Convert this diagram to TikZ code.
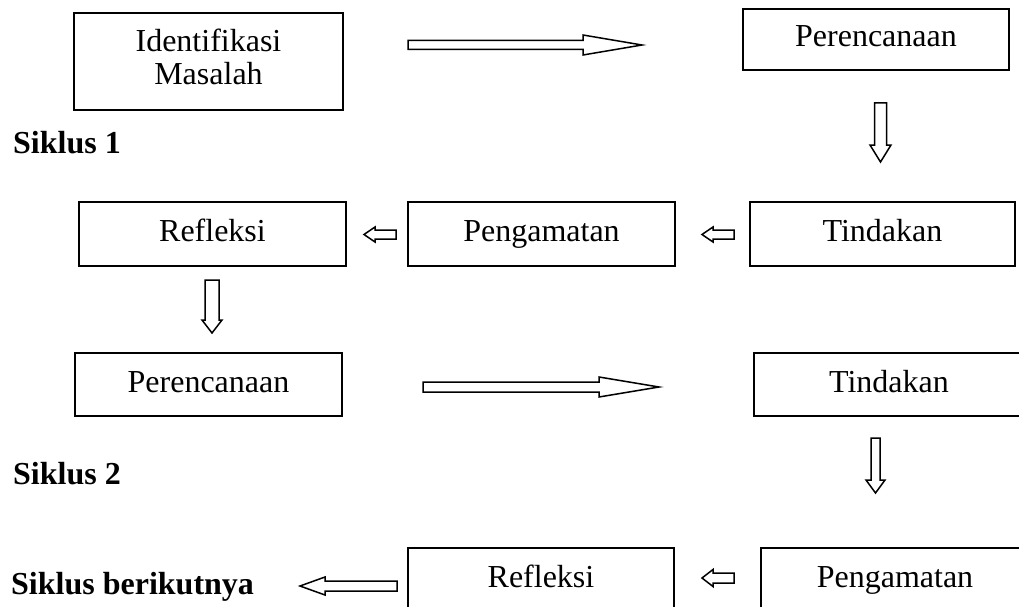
\documentclass[tikz,border=0pt]{standalone}
\usepackage{fontspec}
\setmainfont{Liberation Serif}
% hollow block arrow: #1 tail point, #2 direction (deg), #3 length,
% #4 shaft half-width, #5 head half-width, #6 head length
\newcommand\blockarrow[6]{%
  \draw[arr,shift={(#1)},rotate=#2]
    (0,#4) -- ({#3-#6},#4) -- ({#3-#6},#5) -- (#3,0)
    -- ({#3-#6},-#5) -- ({#3-#6},-#4) -- (0,-#4) -- cycle;}
\begin{document}
\begin{tikzpicture}[x=1pt,y=-1pt,
  box/.style={draw,line width=1.3pt,inner sep=0pt,align=center,
    font=\fontsize{32}{33}\selectfont,text height=22pt,text depth=7pt},
  lbl/.style={anchor=base west,inner sep=0pt,
    font=\fontsize{32}{36}\selectfont\bfseries},
  arr/.style={draw,line width=1.5pt,fill=white,line join=miter}]
\useasboundingbox (0,0) rectangle (1019,607);
\clip (0,0) rectangle (1019,607);

% cycle 1
\node[box,minimum width=269,minimum height=97,text height=54pt,text depth=7pt]
  (ident) at (208.5,61.5) {Identifikasi\\Masalah};
\node[box,minimum width=266,minimum height=61] (plan1) at (876,39.5) {Perencanaan};
\node[box,minimum width=267,minimum height=64] (refl1) at (212.5,234) {Refleksi};
\node[box,minimum width=267,minimum height=64] (obs1) at (541.5,234) {Pengamatan};
\node[box,minimum width=265,minimum height=64] (act1) at (882.5,234) {Tindakan};

% cycle 2
\node[box,minimum width=267,minimum height=63] (plan2) at (208.5,384.5) {Perencanaan};
\node[box,minimum width=270,minimum height=63] (act2) at (889,384.5) {Tindakan};
\node[box,minimum width=266,minimum height=64] (refl2) at (541,580) {Refleksi};
\node[box,minimum width=268,minimum height=64] (obs2) at (895,580) {Pengamatan};

% cycle labels
\node[lbl] (s1) at (13,153) {Siklus 1};
\node[lbl] (s2) at (13,484) {Siklus 2};
\node[lbl] (snext) at (11,594) {Siklus berikutnya};

% flow arrows
\coordinate (t1) at (408,45);
\coordinate (t2) at (880.5,103);
\coordinate (t3) at (396,234.5);
\coordinate (t4) at (734,234.5);
\coordinate (t5) at (212,280);
\coordinate (t6) at (423,387);
\coordinate (t7) at (875.5,438);
\coordinate (t8) at (397,586);
\coordinate (t9) at (734,578);
\blockarrow{t1}{0}{234}{4.5}{10}{59}
\blockarrow{t2}{-90}{59}{6}{10.5}{17}
\blockarrow{t3}{180}{32}{4.5}{7.5}{11}
\blockarrow{t4}{180}{32}{4.5}{7.5}{11}
\blockarrow{t5}{-90}{53}{7}{10}{13}
\blockarrow{t6}{0}{236}{5}{10}{60}
\blockarrow{t7}{-90}{55}{4.5}{9.5}{13}
\blockarrow{t8}{180}{97}{5}{9}{25}
\blockarrow{t9}{180}{32}{5}{8.5}{11}
\end{tikzpicture}
\end{document}
